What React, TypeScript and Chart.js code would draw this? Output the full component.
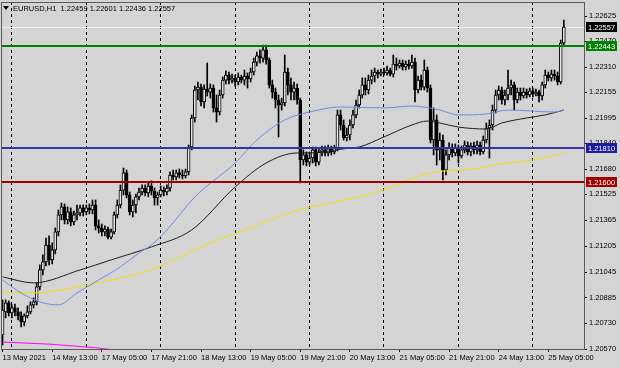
import React, { useEffect, useRef } from 'react';
import { Chart, registerables } from 'chart.js';

Chart.register(...registerables);

// ---------- data ----------
const symbolName = 'EURUSD,H1';

const opens = [
  1.20657,1.20799,1.20855,1.20793,1.20824,1.20799,1.20774,1.20737,1.20774,1.20799,
  1.20842,1.20861,1.20953,1.21058,1.21108,1.21212,1.21120,1.21182,1.21293,1.21398,
  1.21447,1.21367,1.21416,1.21354,1.21398,1.21410,1.21441,1.21416,1.21441,1.21428,
  1.21459,1.21330,1.21317,1.21293,1.21311,1.21261,1.21293,1.21398,1.21459,1.21551,
  1.21657,1.21521,1.21416,1.21459,1.21509,1.21539,1.21564,1.21533,1.21576,1.21545,
  1.21502,1.21521,1.21551,1.21539,1.21564,1.21644,1.21632,1.21657,1.21644,1.21638,
  1.21663,1.21817,1.21996,1.22169,1.22187,1.22095,1.22175,1.22156,1.22181,1.22058,
  1.22033,1.22138,1.22230,1.22261,1.22230,1.22243,1.22218,1.22249,1.22230,1.22255,
  1.22237,1.22280,1.22341,1.22379,1.22366,1.22416,1.22354,1.22200,1.22156,1.22107,
  1.22076,1.22089,1.22280,1.22200,1.22156,1.22181,1.22107,1.21737,1.21768,1.21724,
  1.21749,1.21799,1.21724,1.21786,1.21799,1.21780,1.21805,1.21786,1.21811,1.22015,
  1.21953,1.21873,1.21891,1.21953,1.22015,1.22076,1.22138,1.22200,1.22169,1.22230,
  1.22255,1.22280,1.22267,1.22280,1.22274,1.22292,1.22267,1.22329,1.22317,1.22335,
  1.22311,1.22329,1.22317,1.22341,1.22169,1.22230,1.22187,1.22292,1.22181,1.21860,
  1.21984,1.21799,1.21860,1.21675,1.21768,1.21811,1.21780,1.21811,1.21762,1.21799,
  1.21829,1.21786,1.21823,1.21799,1.21829,1.21786,1.21860,1.21934,1.21953,1.22045,
  1.22138,1.22169,1.22107,1.22138,1.22181,1.22200,1.22107,1.22156,1.22132,1.22156,
  1.22138,1.22163,1.22144,1.22156,1.22132,1.22200,1.22261,1.22243,1.22267,1.22255,
  1.22218,1.22459,
];

const highs = [
  1.20873,1.20873,1.20867,1.20842,1.20848,1.20824,1.20799,1.20787,1.20836,1.20861,
  1.20885,1.20978,1.21089,1.21151,1.21255,1.21268,1.21225,1.21317,1.21428,1.21471,
  1.21465,1.21447,1.21441,1.21422,1.21459,1.21459,1.21459,1.21459,1.21465,1.21490,
  1.21490,1.21367,1.21342,1.21330,1.21323,1.21311,1.21416,1.21490,1.21583,1.21687,
  1.21675,1.21539,1.21490,1.21527,1.21564,1.21583,1.21583,1.21601,1.21608,1.21564,
  1.21539,1.21576,1.21570,1.21583,1.21663,1.21675,1.21675,1.21681,1.21675,1.21681,
  1.21829,1.22015,1.22193,1.22218,1.22206,1.22200,1.22335,1.22206,1.22200,1.22138,
  1.22169,1.22249,1.22286,1.22280,1.22267,1.22261,1.22274,1.22261,1.22292,1.22274,
  1.22304,1.22366,1.22403,1.22416,1.22446,1.22446,1.22366,1.22230,1.22181,1.22138,
  1.22119,1.22385,1.22304,1.22243,1.22218,1.22206,1.22119,1.21799,1.21786,1.21786,
  1.21817,1.21817,1.21805,1.21823,1.21823,1.21829,1.21823,1.21829,1.22045,1.22045,
  1.21984,1.21934,1.21984,1.22045,1.22107,1.22169,1.22243,1.22243,1.22261,1.22292,
  1.22304,1.22292,1.22298,1.22304,1.22317,1.22304,1.22385,1.22366,1.22354,1.22354,
  1.22348,1.22354,1.22385,1.22366,1.22255,1.22261,1.22354,1.22311,1.22200,1.22058,
  1.22015,1.21903,1.21891,1.21799,1.21842,1.21836,1.21836,1.21829,1.21823,1.21854,
  1.21848,1.21842,1.21848,1.21854,1.21848,1.21885,1.21965,1.21984,1.22076,1.22169,
  1.22193,1.22187,1.22169,1.22292,1.22230,1.22218,1.22181,1.22181,1.22181,1.22175,
  1.22181,1.22181,1.22175,1.22169,1.22218,1.22292,1.22280,1.22292,1.22292,1.22280,
  1.22477,1.22601,
];

const lows = [
  1.20595,1.20762,1.20774,1.20762,1.20774,1.20750,1.20706,1.20713,1.20762,1.20787,
  1.20824,1.20842,1.20935,1.21027,1.21083,1.21089,1.21095,1.21157,1.21268,1.21367,
  1.21342,1.21342,1.21330,1.21336,1.21367,1.21391,1.21391,1.21398,1.21404,1.21404,
  1.21305,1.21286,1.21268,1.21268,1.21249,1.21249,1.21280,1.21379,1.21441,1.21521,
  1.21502,1.21398,1.21385,1.21410,1.21490,1.21521,1.21515,1.21509,1.21521,1.21459,
  1.21459,1.21509,1.21515,1.21521,1.21545,1.21614,1.21614,1.21626,1.21620,1.21626,
  1.21644,1.21799,1.21971,1.22107,1.22070,1.22058,1.22132,1.22119,1.22033,1.21971,
  1.22015,1.22119,1.22206,1.22206,1.22212,1.22193,1.22200,1.22212,1.22200,1.22181,
  1.22218,1.22261,1.22317,1.22335,1.22341,1.22329,1.22181,1.22119,1.22058,1.21879,
  1.22045,1.22070,1.22138,1.22107,1.22107,1.22082,1.21595,1.21706,1.21700,1.21706,
  1.21718,1.21700,1.21706,1.21762,1.21762,1.21762,1.21768,1.21774,1.21793,1.21922,
  1.21860,1.21854,1.21860,1.21934,1.21996,1.22058,1.22119,1.22138,1.22144,1.22206,
  1.22218,1.22243,1.22255,1.22261,1.22261,1.22255,1.22249,1.22292,1.22304,1.22292,
  1.22292,1.22298,1.22304,1.22095,1.22150,1.22169,1.22169,1.22156,1.21842,1.21768,
  1.21706,1.21737,1.21614,1.21644,1.21737,1.21755,1.21762,1.21718,1.21749,1.21780,
  1.21768,1.21762,1.21774,1.21774,1.21768,1.21774,1.21842,1.21749,1.21922,1.22027,
  1.22107,1.22082,1.22076,1.22107,1.22138,1.22045,1.22089,1.22107,1.22119,1.22119,
  1.22126,1.22126,1.22132,1.22095,1.22107,1.22181,1.22224,1.22224,1.22230,1.22200,
  1.22206,1.22436,
];

const closes = [
  1.20811,1.20855,1.20793,1.20824,1.20799,1.20774,1.20737,1.20774,1.20799,1.20842,
  1.20861,1.20953,1.21058,1.21108,1.21212,1.21120,1.21182,1.21293,1.21398,1.21447,
  1.21367,1.21416,1.21354,1.21398,1.21410,1.21441,1.21416,1.21441,1.21428,1.21459,
  1.21330,1.21317,1.21293,1.21311,1.21261,1.21293,1.21398,1.21459,1.21551,1.21657,
  1.21521,1.21416,1.21459,1.21509,1.21539,1.21564,1.21533,1.21576,1.21545,1.21502,
  1.21521,1.21551,1.21539,1.21564,1.21644,1.21632,1.21657,1.21644,1.21638,1.21663,
  1.21817,1.21996,1.22169,1.22187,1.22095,1.22175,1.22156,1.22181,1.22058,1.22033,
  1.22138,1.22230,1.22261,1.22230,1.22243,1.22218,1.22249,1.22230,1.22255,1.22237,
  1.22280,1.22341,1.22379,1.22366,1.22416,1.22354,1.22200,1.22156,1.22107,1.22076,
  1.22089,1.22280,1.22200,1.22156,1.22181,1.22107,1.21737,1.21768,1.21724,1.21749,
  1.21799,1.21724,1.21786,1.21799,1.21780,1.21805,1.21786,1.21811,1.22015,1.21953,
  1.21873,1.21891,1.21953,1.22015,1.22076,1.22138,1.22200,1.22169,1.22230,1.22255,
  1.22280,1.22267,1.22280,1.22274,1.22292,1.22267,1.22329,1.22317,1.22335,1.22311,
  1.22329,1.22317,1.22341,1.22169,1.22230,1.22187,1.22292,1.22181,1.21860,1.21984,
  1.21799,1.21860,1.21675,1.21768,1.21811,1.21780,1.21811,1.21762,1.21799,1.21829,
  1.21786,1.21823,1.21799,1.21829,1.21786,1.21860,1.21934,1.21953,1.22045,1.22138,
  1.22169,1.22107,1.22138,1.22181,1.22200,1.22107,1.22156,1.22132,1.22156,1.22138,
  1.22163,1.22144,1.22156,1.22132,1.22200,1.22261,1.22243,1.22267,1.22255,1.22218,
  1.22459,1.22557,
];

// moving averages, read at selected bars (bar index, price)
const maBlueIdx = [0, 6, 12, 18, 24, 31, 38, 44, 48, 53, 62, 75, 82, 91, 99, 109, 123, 132, 141, 147, 156, 163, 178, 181];
const maBlueVal = [1.20996, 1.20916, 1.20861, 1.20842, 1.20916, 1.20996, 1.21077, 1.21163, 1.21212, 1.21305, 1.21509, 1.21718, 1.21860, 1.21984, 1.22033, 1.22064, 1.22058, 1.22070, 1.22045, 1.22015, 1.22021, 1.22045, 1.22033, 1.22045];

const maBlackIdx = [0, 10, 25, 35, 48, 61, 75, 85, 95, 99, 112, 115, 123, 132, 137, 141, 147, 156, 161, 169, 175, 181];
const maBlackVal = [1.21015, 1.20978, 1.21058, 1.21120, 1.21200, 1.21305, 1.21570, 1.21718, 1.21780, 1.21780, 1.21811, 1.21817, 1.21879, 1.21953, 1.21977, 1.21965, 1.21940, 1.21928, 1.21965, 1.21996, 1.22015, 1.22045];

const maYellowIdx = [0, 10, 24, 35, 48, 64, 78, 89, 98, 106, 122, 138, 152, 160, 171, 181];
const maYellowVal = [1.20922, 1.20916, 1.20953, 1.20996, 1.21058, 1.21200, 1.21305, 1.21385, 1.21441, 1.21471, 1.21546, 1.21657, 1.21681, 1.21712, 1.21737, 1.21779];

const maMagentaIdx = [0, 15, 30, 38];
const maMagentaVal = [1.20613, 1.20600, 1.20578, 1.20560];

// horizontal levels
const levelPrices = [1.22443, 1.21810, 1.21600];
const levelColors = ['#008000', '#3434a4', '#a00000'];
const levelBoxColors = ['#008000', '#1c1ca0', '#a00000'];

// axes
const totalSlots = 188;
const xLabelIdx = [0, 16, 32, 48, 64, 80, 96, 112, 128, 144, 160, 176];
const xLabelText = ['13 May 2021', '14 May 13:00', '17 May 05:00', '17 May 21:00', '18 May 13:00', '19 May 05:00', '19 May 21:00', '20 May 13:00', '21 May 05:00', '21 May 21:00', '24 May 13:00', '25 May 05:00'];
const dayStartIdx = [3, 27, 51, 75, 99, 123, 147, 171];
const yTickValues = [1.22625, 1.22470, 1.22310, 1.22155, 1.21995, 1.21840, 1.21680, 1.21525, 1.21365, 1.21205, 1.21045, 1.20885, 1.20730, 1.20570];
const yMin = 1.20570;
const yMax = 1.22712;

// ---------- helpers ----------
const FONT = '"Liberation Sans", Arial, sans-serif';
const BG = '#d4d4d4';

const sparse = (idx: number[], vals: number[]) => {
  const a: (number | null)[] = new Array(totalSlots).fill(null);
  idx.forEach((k, j) => { a[k] = vals[j]; });
  return a;
};

const overlayPlugin = {
  id: 'mtOverlay',
  beforeDatasetsDraw(chart: any) {
    const { ctx, chartArea: a, scales } = chart;
    const y = scales.y;
    const bid = closes[closes.length - 1];
    const py = Math.round(y.getPixelForValue(bid)) + 0.5;
    ctx.save();
    ctx.strokeStyle = '#eeeef6';
    ctx.lineWidth = 1;
    ctx.beginPath();
    ctx.moveTo(a.left, py);
    ctx.lineTo(a.right, py);
    ctx.stroke();
    ctx.restore();
  },
  afterDatasetsDraw(chart: any) {
    const { ctx, chartArea: a, scales } = chart;
    const y = scales.y;
    ctx.save();
    levelPrices.forEach((p, i) => {
      const py = Math.round(y.getPixelForValue(p));
      ctx.strokeStyle = levelColors[i];
      ctx.lineWidth = 2;
      ctx.beginPath();
      ctx.moveTo(a.left, py);
      ctx.lineTo(a.right, py);
      ctx.stroke();
    });
    ctx.restore();
  },
  afterDraw(chart: any) {
    const { ctx, chartArea: a, scales, width } = chart;
    const y = scales.y;
    ctx.save();
    // frame
    ctx.strokeStyle = '#5a5a5a';
    ctx.lineWidth = 1;
    ctx.strokeRect(Math.round(a.left) + 0.5, Math.round(a.top) + 0.5, Math.round(a.right - a.left), Math.round(a.bottom - a.top));
    // price boxes
    ctx.font = `7.5px ${FONT}`;
    ctx.textBaseline = 'middle';
    ctx.textAlign = 'left';
    const boxes = [{ p: closes[closes.length - 1], c: '#000000' }].concat(
      levelPrices.map((p, i) => ({ p, c: levelBoxColors[i] }))
    );
    boxes.forEach((b) => {
      const py = Math.round(y.getPixelForValue(b.p));
      const x0 = Math.round(a.right) + 2;
      ctx.fillStyle = b.c;
      ctx.fillRect(x0, py - 5, width - x0 - 3, 10);
      ctx.fillStyle = '#ffffff';
      ctx.fillText(b.p.toFixed(5), x0 + 2, py + 0.5);
    });
    // header
    ctx.fillStyle = '#000';
    ctx.beginPath();
    ctx.moveTo(a.left + 2, 6);
    ctx.lineTo(a.left + 8, 6);
    ctx.lineTo(a.left + 5, 10);
    ctx.closePath();
    ctx.fill();
    const last = closes.length - 1;
    const header = `${symbolName}  ${opens[last].toFixed(5)} ${highs[last].toFixed(5)} ${lows[last].toFixed(5)} ${closes[last].toFixed(5)}`;
    ctx.font = `7.5px ${FONT}`;
    ctx.fillText(header, a.left + 12, 9);
    ctx.restore();
  },
};

export default function App() {
  const ref = useRef<HTMLCanvasElement>(null);
  useEffect(() => {
    const labels = Array.from({ length: totalSlots }, (_, i) => String(i));
    const isUp = opens.map((o, i) => closes[i] >= o);
    const chart = new Chart(ref.current as HTMLCanvasElement, {
      type: 'bar',
      data: {
        labels,
        datasets: [
          {
            type: 'line',
            data: sparse(maBlueIdx, maBlueVal),
            borderColor: '#6f8fe0',
            borderWidth: 1,
            pointRadius: 0,
            spanGaps: true,
            cubicInterpolationMode: 'monotone',
            order: -1,
          } as any,
          {
            type: 'line',
            data: sparse(maBlackIdx, maBlackVal),
            borderColor: '#1e1e1e',
            borderWidth: 1,
            pointRadius: 0,
            spanGaps: true,
            cubicInterpolationMode: 'monotone',
            order: -1,
          } as any,
          {
            type: 'line',
            data: sparse(maYellowIdx, maYellowVal),
            borderColor: '#f2dc10',
            borderWidth: 1,
            pointRadius: 0,
            spanGaps: true,
            cubicInterpolationMode: 'monotone',
            order: -1,
          } as any,
          {
            type: 'line',
            data: sparse(maMagentaIdx, maMagentaVal),
            borderColor: '#ff00ff',
            borderWidth: 1,
            pointRadius: 0,
            spanGaps: true,
            order: -1,
          } as any,
          {
            type: 'bar',
            data: opens.map((o, i) => [o, closes[i]]),
            backgroundColor: isUp.map((u) => (u ? '#e4e4e4' : '#000000')),
            borderColor: '#000000',
            borderWidth: 1,
            borderSkipped: false,
            barThickness: 3,
            minBarLength: 1,
            grouped: false,
            order: 0,
          } as any,
          {
            type: 'bar',
            data: lows.map((l, i) => [l, highs[i]]),
            backgroundColor: '#000000',
            barThickness: 1,
            grouped: false,
            order: 1,
          } as any,
        ],
      },
      options: {
        animation: false,
        responsive: false,
        events: [],
        layout: { padding: { left: 1, top: 2, right: 0, bottom: 0 } },
        plugins: { legend: { display: false }, tooltip: { enabled: false }, title: { display: false } },
        scales: {
          x: {
            type: 'category',
            offset: true,
            position: 'bottom',
            grid: {
              display: true,
              offset: false,
              drawOnChartArea: false,
              drawTicks: true,
              tickLength: 3,
              color: 'rgba(0,0,0,0)',
              tickColor: (c: any) => (xLabelIdx.includes(c.index) ? '#000000' : 'rgba(0,0,0,0)'),
            },
            border: { display: false },
            ticks: {
              autoSkip: false,
              maxRotation: 0,
              minRotation: 0,
              align: 'start',
              padding: 1,
              color: '#000',
              font: { family: FONT, size: 7.5 },
              callback: (_v: any, i: number) => {
                const k = xLabelIdx.indexOf(i);
                return k >= 0 ? xLabelText[k] : '';
              },
            },
            afterFit: (s: any) => {
              s.height = 19;
              s.paddingLeft = 0;
              s.paddingRight = 0;
            },
          } as any,
          x2: {
            type: 'category',
            offset: true,
            position: 'bottom',
            grid: {
              display: true,
              offset: false,
              drawOnChartArea: true,
              drawTicks: false,
              lineWidth: 1,
              color: (c: any) => (dayStartIdx.includes(c.index) ? '#000000' : 'rgba(0,0,0,0)'),
            },
            border: { display: false, dash: [3, 3] },
            ticks: { display: false, autoSkip: false },
            afterFit: (s: any) => {
              s.height = 0;
              s.paddingLeft = 0;
              s.paddingRight = 0;
            },
          } as any,
          y: {
            type: 'linear',
            position: 'right',
            min: yMin,
            max: yMax,
            grid: {
              display: true,
              drawOnChartArea: false,
              drawTicks: true,
              tickLength: 3,
              color: 'rgba(0,0,0,0)',
              tickColor: '#000',
            },
            border: { display: false },
            afterBuildTicks: (s: any) => {
              s.ticks = yTickValues.map((v) => ({ value: v }));
            },
            ticks: {
              padding: 2,
              color: '#000',
              font: { family: FONT, size: 7.5 },
              callback: (v: any) => Number(v).toFixed(5),
            },
            afterFit: (s: any) => {
              s.width = 36;
              s.paddingTop = 0;
              s.paddingBottom = 0;
            },
          } as any,
        },
      },
      plugins: [overlayPlugin],
    } as any);
    return () => chart.destroy();
  }, []);
  return (
    <div style={{ position: 'fixed', left: 0, top: 0, width: 620, height: 368, background: BG }}>
      <canvas ref={ref} width={620} height={368} style={{ display: 'block' }} />
    </div>
  );
}
